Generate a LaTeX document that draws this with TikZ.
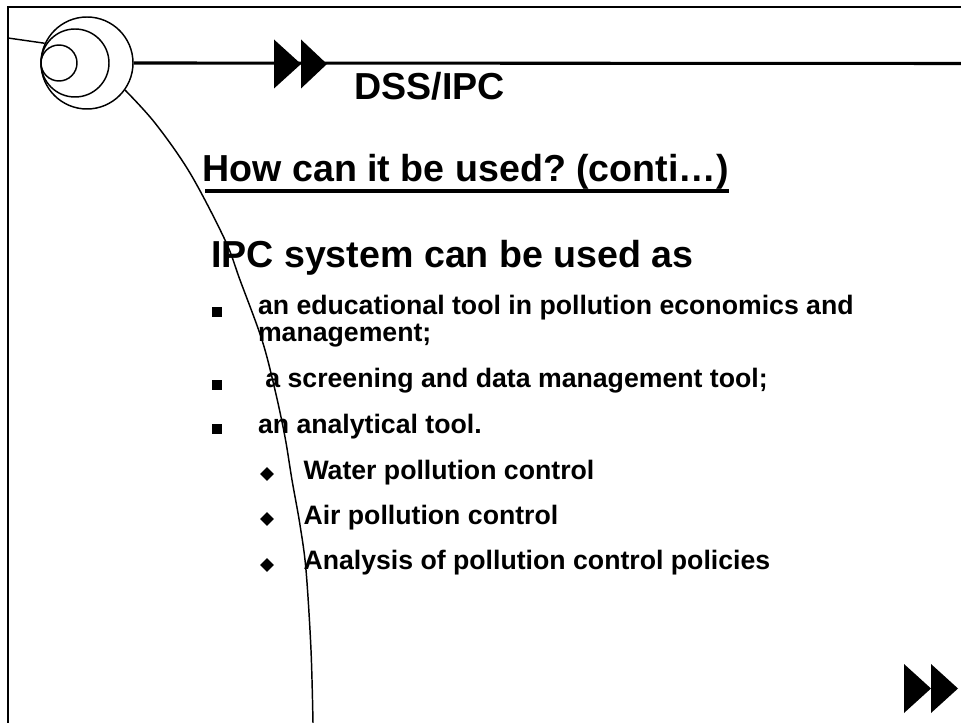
\documentclass[tikz,border=0pt]{standalone}
\usepackage{fontspec}
\setmainfont{Liberation Sans}
\usetikzlibrary{shapes.geometric,calc}
\tikzset{
  px/.style={x=0.75pt,y=-0.75pt},
  titlefont/.style={font=\frenchspacing\bfseries\fontsize{28.2pt}{33pt}\selectfont},
  itemfont/.style={font=\frenchspacing\bfseries\fontsize{20pt}{24pt}\selectfont},
  txt/.style={anchor=base west, inner sep=0pt, outer sep=0pt},
  ring/.style={draw, circle, line width=1.1pt, inner sep=0pt},
  sqbullet/.style={rectangle, fill=black, minimum size=7.8pt, inner sep=0pt},
  dmbullet/.style={diamond, fill=black, minimum size=10.5pt, inner sep=0pt},
  framepen/.style={line width=1.5pt},
  thin/.style={line width=1.1pt},
  rule/.style={line width=2.3pt},
  tri/.style={fill=black},
}
\begin{document}
\begin{tikzpicture}[px]
\useasboundingbox (0,0) rectangle (961,723);
% frame
\coordinate (ftr) at (961,7);
\coordinate (ftl) at (8,7);
\coordinate (fbl) at (8,723);
\draw[framepen] (ftr) -- (ftl) -- (fbl);
% rings
\node[ring, minimum size=69pt] (outer) at (87,63) {};
\node[ring, minimum size=51pt] (middle) at (75,63) {};
\node[ring, minimum size=27pt] (inner) at (59,63) {};
% lines from rings
\coordinate (lstart) at (8,38);
\draw[thin] (lstart) -- (outer.155);
\coordinate (lineend) at (961,63.5);
\draw[rule] (outer.east) -- (lineend);
\draw[thin] plot[smooth, tension=0.55] coordinates {(125,90) (155,123) (190,173) (225,240) (240,280) (262,340) (275,390) (285,437) (292,480) (300,525) (306,570) (311,650) (313,723)};
% top double arrow
\fill[tri] (274,39.5) -- (274,88.5) -- (301,64) -- cycle;
\fill[tri] (301,39.5) -- (301,88.5) -- (327,64) -- cycle;
% bottom-right double arrow
\fill[tri] (904,664) -- (904,713) -- (931,688.5) -- cycle;
\fill[tri] (931,664) -- (931,713) -- (958,688.5) -- cycle;
% titles
\node[txt, titlefont] (dss) at (354.5,100) {DSS/IPC};
\node[txt, titlefont] (how) at (202.5,182) {How can it be used? (conti…)};
\draw[line width=3pt] ($(how.base west)+(2.5,9)$) -- ($(how.base east)+(0,9)$);
\node[txt, titlefont] (ipc) at (211,268) {IPC system can be used as};
% items
\node[sqbullet] (b1) at (217,312) {};
\node[txt, itemfont] (i1) at (258,315) {an educational tool in pollution economics and};
\node[txt, itemfont] (i1b) at (258,342) {management;};
\node[sqbullet] (b2) at (217,385) {};
\node[txt, itemfont] (i2) at (258,388) {\ a screening and data management tool;};
\node[sqbullet] (b3) at (217,429) {};
\node[txt, itemfont] (i3) at (258,434) {an analytical tool.};
\node[dmbullet] (d1) at (267,474) {};
\node[txt, itemfont] (s1) at (303.5,480) {Water pollution control};
\node[dmbullet] (d2) at (267,519) {};
\node[txt, itemfont] (s2) at (303.5,525) {Air pollution control};
\node[dmbullet] (d3) at (267,565) {};
\node[txt, itemfont] (s3) at (303.5,570) {Analysis of pollution control policies};
\end{tikzpicture}
\end{document}
